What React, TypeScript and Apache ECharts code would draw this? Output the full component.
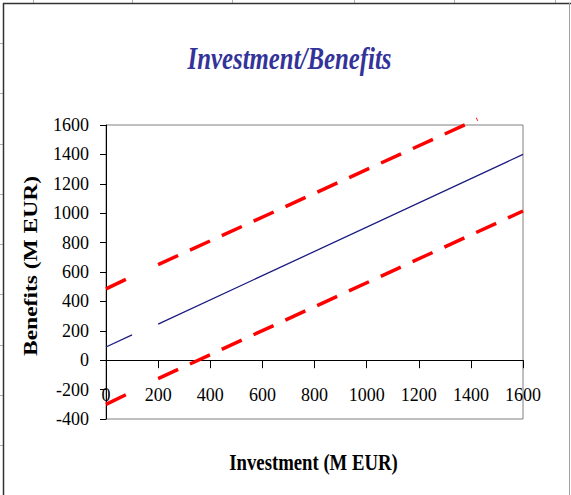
import React, { useEffect, useRef } from "react";
import * as echarts from "echarts";

// Axis ranges and ticks
const xTicks = { min: 0, max: 1600, step: 200 };
const yTicks = { min: -400, max: 1600, step: 200 };

// Benefits vs. investment (M EUR); "-" breaks the line between 100 and 200
const expected: (number | string)[][] = [
  [0, 90],
  [100, 172],
  [150, "-"],
  [200, 245],
  [1600, 1400],
];
const upperBound: (number | string)[][] = [
  [0, 485],
  [100, 570],
  [150, "-"],
  [200, 650],
  [1425, 1640],
];
const lowerBound: (number | string)[][] = [
  [0, -300],
  [100, -215],
  [150, "-"],
  [200, -125],
  [1600, 1015],
];

const titleText = "Investment/Benefits";
const xName = "Investment (M EUR)";
const yName = "Benefits (M EUR)";

// Worksheet cell marks peeking around the chart frame
const colMarks = [33, 132, 232, 354, 454, 555];
const rowMarks = [43, 93, 144, 194, 244, 294, 345, 395, 445];

const SERIF = "'Liberation Serif', 'Times New Roman', serif";

// plot area in pixels
const GRID = { left: 106, right: 48, top: 125, bottom: 76 };

export default function App() {
  const ref = useRef<HTMLDivElement>(null);

  useEffect(() => {
    if (!ref.current) return;
    const chart = echarts.init(ref.current, undefined, { renderer: "svg" });

    // the investment axis runs along Benefits = 0
    const plotH = 495 - GRID.top - GRID.bottom;
    const zeroFromBottom = (plotH * (0 - yTicks.min)) / (yTicks.max - yTicks.min);

    const dashed = {
      color: "#ff0000",
      width: 3.5,
      type: [22, 13] as number[],
      cap: "butt" as const,
    };

    const graphics: any[] = [];
    colMarks.forEach((x) =>
      graphics.push({
        type: "line",
        shape: { x1: x + 0.5, y1: 0, x2: x + 0.5, y2: 3 },
        style: { stroke: "#b0b0b0", lineWidth: 1 },
        silent: true,
      })
    );
    rowMarks.forEach((y) =>
      graphics.push({
        type: "line",
        shape: { x1: 0, y1: y + 0.5, x2: 3, y2: y + 0.5 },
        style: { stroke: "#b0b0b0", lineWidth: 1 },
        silent: true,
      })
    );
    // chart area frame
    graphics.push(
      {
        type: "line",
        shape: { x1: 3.5, y1: 3, x2: 3.5, y2: 495 },
        style: { stroke: "#333333", lineWidth: 1.5 },
        silent: true,
      },
      {
        type: "line",
        shape: { x1: 3, y1: 3.5, x2: 571, y2: 3.5 },
        style: { stroke: "#333333", lineWidth: 1.5 },
        silent: true,
      },
      {
        type: "line",
        shape: { x1: 569.5, y1: 3, x2: 569.5, y2: 495 },
        style: { stroke: "#a0a0a0", lineWidth: 1 },
        silent: true,
      }
    );
    // titles
    graphics.push(
      {
        type: "text",
        x: 289.5,
        y: 74,
        scaleX: 0.8,
        style: {
          text: titleText,
          fontFamily: SERIF,
          fontSize: 31,
          fontWeight: "bold",
          fontStyle: "italic",
          fill: "#333399",
          align: "center",
          verticalAlign: "bottom",
        },
        silent: true,
      },
      {
        type: "text",
        x: 313.5,
        y: 462,
        scaleX: 0.78,
        style: {
          text: xName,
          fontFamily: SERIF,
          fontSize: 24,
          fontWeight: "bold",
          fill: "#000000",
          align: "center",
          verticalAlign: "middle",
        },
        silent: true,
      },
      {
        type: "text",
        x: 31,
        y: 266,
        rotation: Math.PI / 2,
        scaleY: 0.8,
        style: {
          text: yName,
          fontFamily: SERIF,
          fontSize: 23.5,
          fontWeight: "bold",
          fill: "#000000",
          align: "center",
          verticalAlign: "middle",
        },
        silent: true,
      }
    );

    chart.setOption({
      animation: false,
      backgroundColor: "#ffffff",
      grid: {
        ...GRID,
        show: true,
        borderColor: "#808080",
        borderWidth: 1,
        backgroundColor: "transparent",
        containLabel: false,
        outerBoundsMode: "none",
      },
      xAxis: {
        type: "value",
        position: "bottom",
        offset: -zeroFromBottom,
        min: xTicks.min,
        max: xTicks.max,
        interval: xTicks.step,
        axisLine: { show: true, onZero: false, lineStyle: { color: "#000000", width: 1 } },
        axisTick: { show: true, inside: false, length: 8, lineStyle: { color: "#000000" } },
        axisLabel: {
          margin: 26,
          color: "#000000",
          fontFamily: SERIF,
          fontSize: 18,
          formatter: (v: number) => String(v),
        },
        splitLine: { show: false },
      },
      yAxis: {
        type: "value",
        min: yTicks.min,
        max: yTicks.max,
        interval: yTicks.step,
        axisLine: { show: true, lineStyle: { color: "#000000", width: 1 } },
        axisTick: { show: true, inside: false, length: 6, lineStyle: { color: "#000000" } },
        axisLabel: {
          margin: 17,
          color: "#000000",
          fontFamily: SERIF,
          fontSize: 18,
          formatter: (v: number) => String(v),
        },
        splitLine: { show: false },
      },
      graphic: graphics,
      series: [
        {
          type: "line",
          data: upperBound,
          showSymbol: false,
          connectNulls: false,
          clip: false,
          lineStyle: dashed,
          z: 3,
        },
        {
          type: "line",
          data: lowerBound,
          showSymbol: false,
          connectNulls: false,
          lineStyle: dashed,
          z: 3,
        },
        {
          type: "line",
          data: expected,
          showSymbol: false,
          connectNulls: false,
          lineStyle: { color: "#1a1a80", width: 1.3 },
          z: 4,
        },
      ],
    });

    return () => chart.dispose();
  }, []);

  return (
    <div
      ref={ref}
      style={{ position: "fixed", left: 0, top: 0, width: 571, height: 495 }}
    />
  );
}
